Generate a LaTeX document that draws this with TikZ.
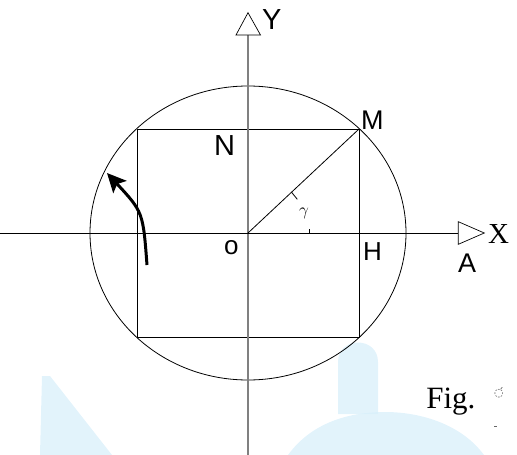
\documentclass[tikz,border=0pt]{standalone}
\usepackage{fontspec}
\setmainfont{Liberation Serif}
\newfontfamily\lsans{Liberation Sans}
\newfontfamily\dvs{DejaVu Sans}
\usetikzlibrary{arrows.meta}
\definecolor{wmblue}{RGB}{214,238,250}
\begin{document}
\begin{tikzpicture}[x=1pt,y=-1pt,
  lbl/.style={inner sep=0pt,outer sep=0pt,anchor=base west},
  thinline/.style={line width=0.8pt,black},
  axisgray/.style={line width=1.4pt,black!50},
  tip/.style={line width=0.7pt,black,fill=white},
  wm/.style={fill=wmblue,draw=none,opacity=0.7}]
\useasboundingbox (0,0) rectangle (517,455);
% watermark shapes
\fill[wm] (42,376) -- (50,376) -- (112,455) -- (40,455) -- cycle;
\fill[wm] (288,455) .. controls (312,422) and (350,412) .. (385,412)
  .. controls (422,412) and (462,425) .. (484,455) -- cycle;
\fill[wm] (338,362) .. controls (338,336) and (378,336) .. (378,362)
  -- (378,414) -- (338,414) -- cycle;
% key coordinates
\coordinate (O) at (248,233);
\coordinate (M) at (359,129);
\coordinate (Ytip) at (248,12.7);
\coordinate (Ybot) at (248,455);
\coordinate (Xl) at (0,233);
\coordinate (Xb) at (458.3,233);
% ellipse and rectangle
\draw[thinline] (O) ellipse [x radius=158, y radius=147];
\draw[thinline] (137,129) rectangle (359,337);
% axes
\draw[axisgray] (Ybot) -- (Ytip);
\draw[line width=0.9pt] (Xl) -- (Xb);
\draw[tip] (Ytip) -- (236,35) -- (260.5,35) -- cycle;
\draw[tip] (458.3,221.7) -- (484.3,233) -- (458.3,244.3) -- cycle;
% diagonal
\draw[thinline] (O) -- (M);
% angle ticks
\draw[line width=0.8pt] (291.7,192.4) -- (297.3,199.3);
\draw[line width=0.8pt] (309.3,229.3) -- (309.3,233);
% rotation arrow
\coordinate (arS) at (147,265);
\coordinate (arE) at (107,173);
\draw[line width=3pt,-{Stealth[length=19pt,width=18pt,inset=4pt]}] (arS) .. controls (143,212) .. (arE);
% labels
\node[lbl,font=\lsans\fontsize{29}{29}\selectfont] (Y) at (262,30) {Y};
\node[lbl,font=\lsans\fontsize{27}{27}\selectfont] (Ml) at (361,129.3) {M};
\node[lbl,font=\lsans\fontsize{29}{29}\selectfont] (N) at (214,155.7) {N};
\node[lbl,font=\lsans\fontsize{26}{26}\selectfont] (o) at (224,254) {o};
\node[lbl,font=\lsans\fontsize{26}{26}\selectfont] (H) at (363,260.7) {H};
\node[lbl,font=\lsans\fontsize{27}{27}\selectfont] (A) at (458,272.7) {A};
\node[lbl,font=\fontsize{29}{29}\selectfont] (X) at (488,243.3) {X};
\node[inner sep=0pt,font=\fontsize{17}{17}\selectfont] (g) at (304,213) {$\gamma$};
\node[lbl,font=\fontsize{31}{31}\selectfont] (fig) at (426.3,408) {Fig.};
\node[inner sep=0pt,font=\dvs\fontsize{11}{11}\selectfont,text=black!70] (dc) at (499,393) {◌́};
\coordinate (d1) at (494,426);
\coordinate (d2) at (497,426);
\draw[black!60,line width=0.8pt] (d1) -- (d2);
\end{tikzpicture}
\end{document}
